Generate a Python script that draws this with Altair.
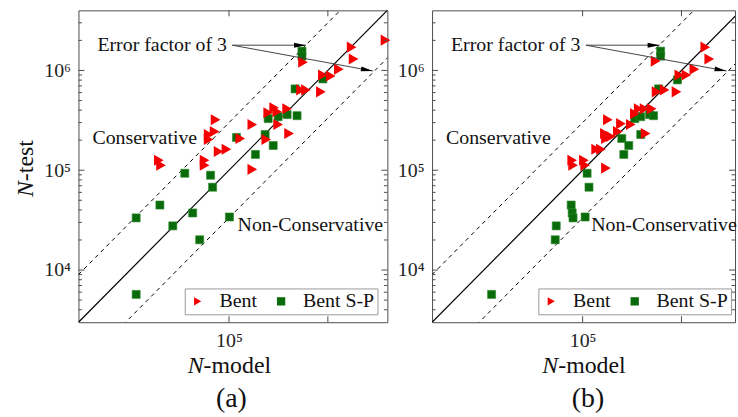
import altair as alt
import pandas as pd

FONT = "Liberation Serif, DejaVu Serif, serif"
RED = "#f50000"
GREEN = "#0a6b0a"
FRAME = "#4d4d4d"
SERIES = ["Bent", "Bent S-P"]

# ---------------- panel (a) ----------------
a_bent_model = [1.95e4, 2.05e4, 5.66e4, 5.66e4, 6.22e4, 6.22e4, 7.14e4, 7.31e4, 7.84e4, 9.42e4,
                1.30e5, 1.72e5, 1.72e5, 2.38e5, 2.49e5, 2.86e5, 3.07e5, 3.14e5, 3.87e5, 4.05e5,
                5.60e5, 5.35e5, 6.00e5, 8.5e5, 8.9e5, 1.07e6, 1.29e6, 1.74e6, 1.82e6, 3.83e6]
a_bent_test = [1.26e5, 1.12e5, 1.26e5, 1.12e5, 2.28e5, 2.03e5, 2.44e5, 3.21e5, 1.54e5, 1.62e5,
               2.08e5, 2.87e5, 1.02e5, 2.03e5, 3.77e5, 4.23e5, 3.86e5, 2.87e5, 4.13e5, 2.33e5,
               1.21e6, 6.38e5, 6.38e5, 6.10e5, 9.0e5, 8.8e5, 1.03e6, 1.71e6, 1.30e6, 2.01e6]
a_sp_model = [5.47e5, 5.47e5, 4.66e5, 8.9e5, 2.49e5, 3.14e5, 3.87e5, 4.88e5, 2.32e5, 2.80e5, 1.85e5,
              1.19e5, 3.57e4, 6.51e4, 6.82e4, 2.0e4, 4.29e4, 1.15e4, 2.70e4, 1.01e5, 5.05e4, 1.15e4]
a_sp_test = [1.56e6, 1.39e6, 6.53e5, 8.22e5, 3.29e5, 3.44e5, 3.61e5, 3.52e5, 2.28e5, 1.77e5, 1.44e5,
             2.13e5, 9.33e4, 8.91e4, 6.76e4, 4.48e4, 3.73e4, 3.33e4, 2.77e4, 3.40e4, 2.01e4, 5.7e3]

# ---------------- panel (b) ----------------
b_bent_model = [7.84e4, 8.02e4, 1.03e5, 1.06e5, 1.37e5, 1.53e5, 1.68e5, 1.72e5, 1.93e5, 1.80e5,
                2.44e5, 3.07e5, 3.37e5, 3.69e5, 4.24e5, 4.99e5, 4.34e5, 1.72e5, 5.47e5, 5.60e5,
                6.74e5, 8.9e5, 9.5e5, 1.12e6, 1.35e6, 1.74e6, 1.91e6, 2.27e5]
b_bent_test = [1.26e5, 1.12e5, 1.26e5, 1.12e5, 1.62e5, 1.62e5, 2.33e5, 2.08e5, 2.18e5, 3.21e5,
               2.93e5, 2.87e5, 3.69e5, 4.13e5, 4.13e5, 4.13e5, 2.33e5, 1.05e5, 1.24e6, 6.10e5,
               6.38e5, 6.10e5, 9.0e5, 9.0e5, 1.03e6, 1.71e6, 1.30e6, 2.44e5]
b_sp_model = [6.15e5, 6.15e5, 5.87e5, 9.1e5, 3.37e5, 3.87e5, 4.76e5, 5.22e5, 3.87e5, 2.49e5, 2.93e5,
              2.61e5, 1.11e5, 1.16e5, 7.66e4, 7.84e4, 5.41e4, 1.06e5, 5.28e4, 1.20e4, 8.0e4]
b_sp_test = [1.56e6, 1.39e6, 6.53e5, 8.04e5, 3.29e5, 3.44e5, 3.61e5, 3.52e5, 2.28e5, 2.08e5, 1.77e5,
             1.44e5, 9.33e4, 6.76e4, 4.48e4, 3.73e4, 2.77e4, 3.40e4, 2.01e4, 5.7e3, 3.33e4]

# ---------------- axes / ticks ----------------
Y_DOMAIN = [3e3, 4e6]
X_MIN = 3e3
y_label_values = [1e4, 1e5, 1e6]
y_label_texts = ["10⁴", "10⁵", "10⁶"]
x_label_values = [1e5]
x_label_texts = ["10⁵"]
y_major_ticks = [1e4, 1e5, 1e6]
y_minor_ticks = [4e3, 5e3, 6e3, 7e3, 8e3, 9e3,
                 2e4, 3e4, 4e4, 5e4, 6e4, 7e4, 8e4, 9e4,
                 2e5, 3e5, 4e5, 5e5, 6e5, 7e5, 8e5, 9e5,
                 2e6, 3e6]
x_major_ticks = [1e5, 1e6]

# reference lines (model = test, and error factor of 3)
line_x = [3e3, 5e6]
factor_upper = 3.0
factor_lower = 1.0 / 3.0

# annotations (data coordinates)
err_text = {"x": 4.66e3, "y": 1.79e6, "t": "Error factor of 3"}
cons_text = {"x": 4.15e3, "y": 2.08e5, "t": "Conservative"}
noncons_text = {"x": 1.22e5, "y": 2.83e4, "t": "Non-Conservative"}
arrow_start = (1.08e5, 1.79e6)
arrow_ends = [(6.0e5, 1.79e6, 0.0), (2.85e6, 9.87e5, 10.4)]


def label_expr(values, texts):
    expr = "''"
    for v, t in zip(values, texts):
        expr = f"abs(datum.value - {v}) < {v * 0.01} ? '{t}' : " + expr
    return expr


def panel(bent_m, bent_t, sp_m, sp_t, width, xmax, letter, title_split, letter_x, y_title):
    height = 314
    xs = alt.Scale(type="log", domain=[X_MIN, xmax], nice=False, zero=False)
    ys = alt.Scale(type="log", domain=Y_DOMAIN, nice=False, zero=False)
    xax = alt.Axis(values=x_label_values, labelExpr=label_expr(x_label_values, x_label_texts),
                   ticks=False, domain=False, grid=False, title=None, labelFont=FONT,
                   labelFontSize=20, labelPadding=8, labelColor="#222", labelFlush=False)
    yax = alt.Axis(values=y_label_values, labelExpr=label_expr(y_label_values, y_label_texts),
                   ticks=False, domain=False, grid=False, title=None, labelFont=FONT,
                   labelFontSize=20, labelPadding=8, labelColor="#222", labelFlush=False)

    def X(f="x"):
        return alt.X(f"{f}:Q", scale=xs, axis=xax)

    def Y(f="y"):
        return alt.Y(f"{f}:Q", scale=ys, axis=yax)

    legend = alt.Legend(orient="none", legendX=107, legendY=280, direction="horizontal",
                        title=None, strokeColor="#999", fillColor="white", padding=3,
                        labelFont=FONT, labelFontSize=20, labelColor="#111", symbolSize=70,
                        columnPadding=14, labelOffset=12, symbolStrokeWidth=0, cornerRadius=0)
    color = alt.Color("s:N", scale=alt.Scale(domain=SERIES, range=[RED, GREEN]), legend=legend)
    shape = alt.Shape("s:N", scale=alt.Scale(domain=SERIES, range=["triangle-right", "square"]),
                      legend=legend)

    bent = pd.DataFrame({"x": bent_m, "y": bent_t, "s": "Bent"})
    sp = pd.DataFrame({"x": sp_m, "y": sp_t, "s": "Bent S-P"})

    layers = []
    # reference lines
    solid = pd.DataFrame({"x": line_x, "y": line_x})
    dashed = pd.DataFrame({
        "x": line_x + line_x,
        "y": [v * factor_upper for v in line_x] + [v * factor_lower for v in line_x],
        "g": ["up", "up", "low", "low"]})
    layers.append(alt.Chart(solid).mark_line(color="black", strokeWidth=1.2, clip=True)
                  .encode(x=X(), y=Y()))
    layers.append(alt.Chart(dashed).mark_line(color="black", strokeWidth=1, strokeDash=[4, 4],
                                              clip=True)
                  .encode(x=X(), y=Y(), detail="g:N"))
    # points
    layers.append(alt.Chart(sp).mark_point(filled=True, size=66, opacity=1, stroke="#2f8a2f",
                                           strokeWidth=0.6)
                  .encode(x=X(), y=Y(), color=color, shape=shape))
    layers.append(alt.Chart(bent).mark_point(filled=True, size=125, opacity=1)
                  .encode(x=X(), y=Y(), color=color, shape=shape))

    # ticks (inside the frame)
    def yticks(vals, ln):
        d = pd.DataFrame({"y": vals})
        return [alt.Chart(d).mark_rule(color=FRAME, strokeWidth=1)
                .encode(y=Y(), x=alt.value(0), x2=alt.value(ln)),
                alt.Chart(d).mark_rule(color=FRAME, strokeWidth=1)
                .encode(y=Y(), x=alt.value(width), x2=alt.value(width - ln))]
    layers += yticks(y_major_ticks, 6)
    layers += yticks(y_minor_ticks, 3.5)
    dx = pd.DataFrame({"x": x_major_ticks})
    layers.append(alt.Chart(dx).mark_rule(color=FRAME, strokeWidth=1)
                  .encode(x=X(), y=alt.value(height), y2=alt.value(height - 6)))
    layers.append(alt.Chart(dx).mark_rule(color=FRAME, strokeWidth=1)
                  .encode(x=X(), y=alt.value(0), y2=alt.value(6)))

    # annotations
    ann = pd.DataFrame([err_text, cons_text, noncons_text])
    layers.append(alt.Chart(ann).mark_text(font=FONT, fontSize=20, align="left",
                                           baseline="middle", color="#111")
                  .encode(x=X(), y=Y(), text="t:N"))
    arr = pd.DataFrame({"x": [arrow_start[0]] * 2, "y": [arrow_start[1]] * 2,
                        "x2": [e[0] for e in arrow_ends], "y2": [e[1] for e in arrow_ends],
                        "a": [e[2] for e in arrow_ends]})
    layers.append(alt.Chart(arr).mark_rule(color="#444", strokeWidth=1)
                  .encode(x=X(), y=Y(), x2="x2:Q", y2="y2:Q"))
    layers.append(alt.Chart(arr).mark_point(filled=True, color="black", opacity=1, size=144,
                                            shape="M0,0L-2,-0.42L-2,0.42Z")
                  .encode(x=X("x2"), y=Y("y2"), angle=alt.Angle("a:Q", scale=None)))

    # axis titles with italic N, and panel letter
    one = alt.Data(values=[{"k": 1}])
    layers.append(alt.Chart(one).mark_text(text="N", font=FONT, fontSize=24, fontStyle="italic",
                                           align="right", baseline="alphabetic", color="#111")
                  .encode(x=alt.value(title_split), y=alt.value(365)))
    layers.append(alt.Chart(one).mark_text(text="-model", font=FONT, fontSize=24, align="left",
                                           baseline="alphabetic", color="#111")
                  .encode(x=alt.value(title_split), y=alt.value(365)))
    if y_title:
        layers.append(alt.Chart(one).mark_text(text="N", font=FONT, fontSize=24,
                                               fontStyle="italic", align="right",
                                               baseline="alphabetic", angle=270, color="#111")
                      .encode(x=alt.value(-46), y=alt.value(172)))
        layers.append(alt.Chart(one).mark_text(text="-test", font=FONT, fontSize=24,
                                               align="left", baseline="alphabetic", angle=270,
                                               color="#111")
                      .encode(x=alt.value(-46), y=alt.value(172)))
    layers.append(alt.Chart(one).mark_text(text=letter, font=FONT, fontSize=28, align="center",
                                           baseline="alphabetic", color="#111")
                  .encode(x=alt.value(letter_x), y=alt.value(399)))

    return alt.layer(*layers).properties(width=width, height=height)


pa = panel(a_bent_model, a_bent_test, a_sp_model, a_sp_test, 311, 4e6, "(a)", 126, 154, True)
pb = panel(b_bent_model, b_bent_test, b_sp_model, b_sp_test, 305, 3.48e6, "(b)", 127, 157, False)

chart = (alt.hconcat(pa, pb, spacing=45, bounds="flush")
         .resolve_scale(color="independent", shape="independent")
         .configure_view(stroke=FRAME, strokeWidth=1)
         .properties(padding={"left": 13, "top": 8, "right": 0, "bottom": 0},
                     background="white"))

chart.save("out.html", embed_options={"renderer": "svg", "actions": False})
